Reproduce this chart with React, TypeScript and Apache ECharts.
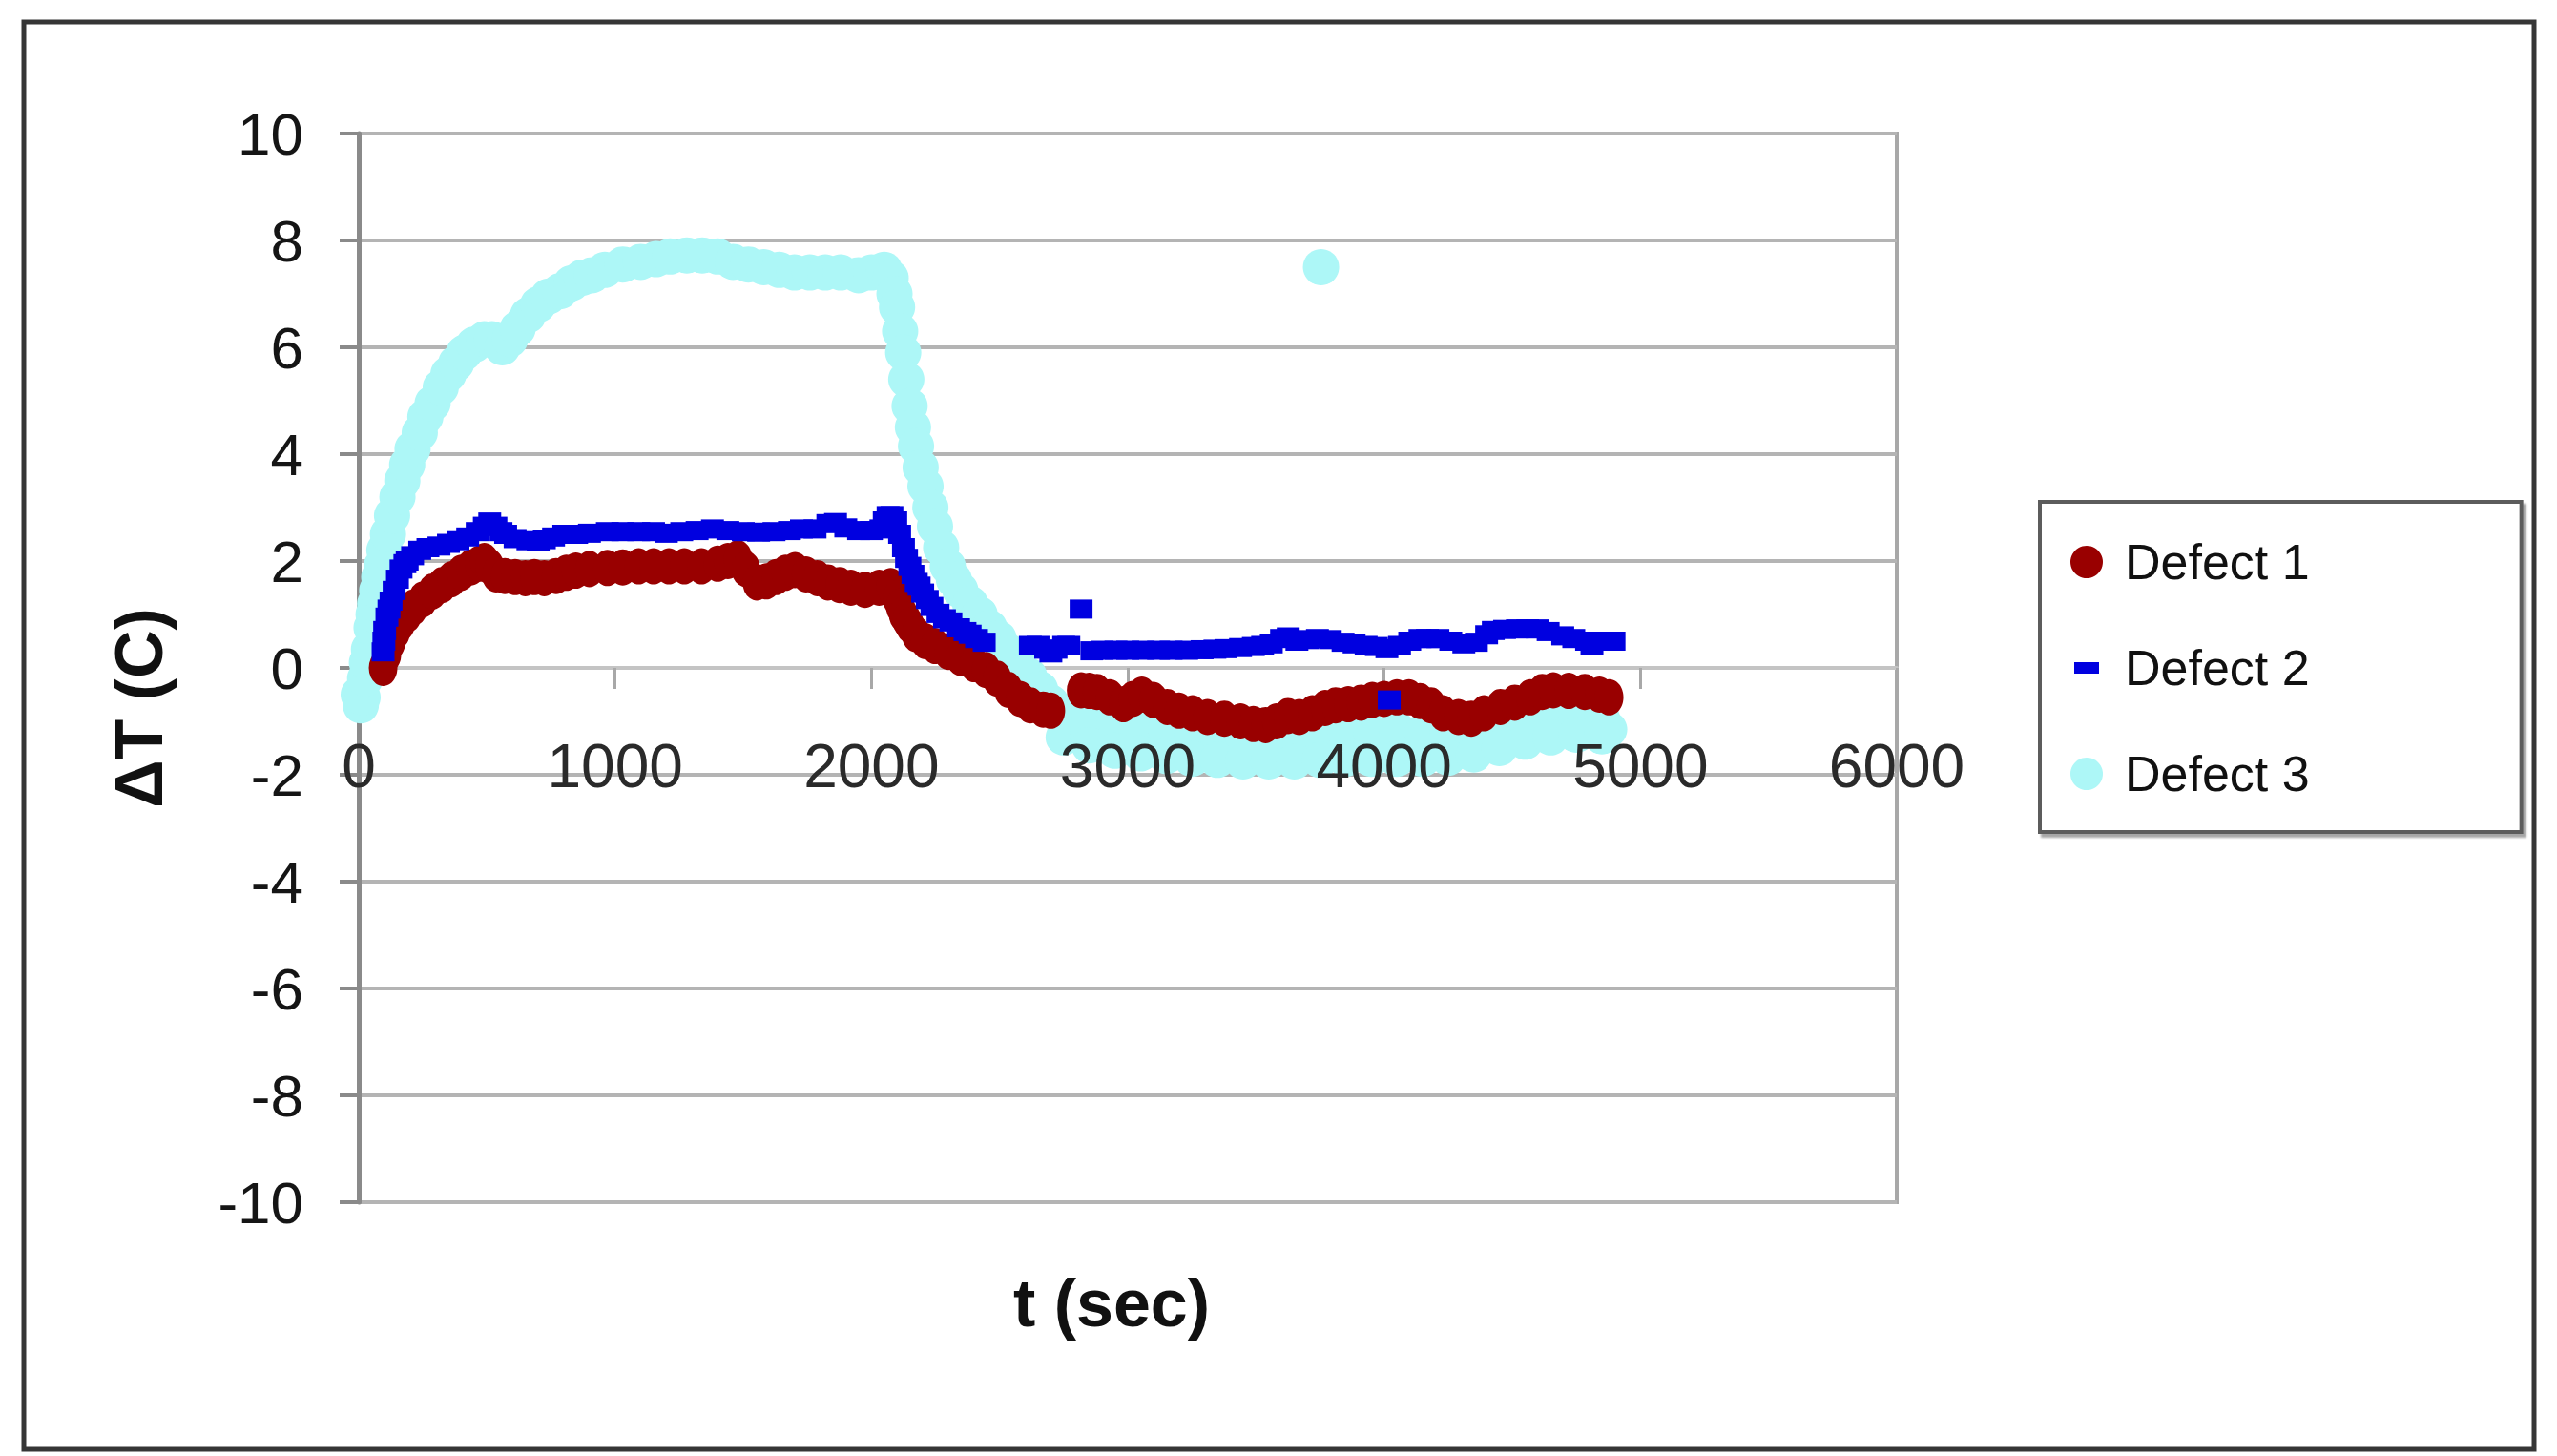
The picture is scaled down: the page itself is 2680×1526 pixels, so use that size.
import React, { useEffect, useRef } from "react";
import * as echarts from "echarts";

// ---- axis settings ----
const xTicks = [0, 1000, 2000, 3000, 4000, 5000, 6000];
const yTicks = [-10, -8, -6, -4, -2, 0, 2, 4, 6, 8, 10];
const seriesNames = ["Defect 1", "Defect 2", "Defect 3"];

// ---- Defect 1 (dark red) [t (sec), dT (C)] ----
const defect1Heat: [number, number][] = [
  [95, 0.0], [110, 0.25], [126, 0.48], [145, 0.68], [164, 0.84], [190, 1.0], [213, 1.13],
  [250, 1.28], [288, 1.43], [325, 1.55], [362, 1.66], [400, 1.78], [437, 1.88], [470, 1.95],
  [490, 2.0], [510, 1.9], [536, 1.75], [570, 1.72], [610, 1.7], [650, 1.68], [685, 1.7],
  [724, 1.68], [770, 1.72], [810, 1.78], [847, 1.82], [900, 1.85], [970, 1.87], [1030, 1.88],
  [1092, 1.9], [1150, 1.9], [1210, 1.9], [1270, 1.9], [1337, 1.9], [1400, 1.95], [1440, 2.0],
  [1479, 2.05], [1510, 1.85], [1553, 1.6], [1590, 1.62], [1628, 1.7], [1665, 1.78], [1702, 1.83],
  [1745, 1.75], [1789, 1.68], [1830, 1.6], [1876, 1.55], [1920, 1.5], [1975, 1.46], [2030, 1.5],
  [2075, 1.53],
];
const defect1Cool: [number, number][] = [
  [2100, 1.3], [2112, 1.15], [2124, 1.0], [2137, 0.9], [2150, 0.8], [2174, 0.63], [2210, 0.5],
  [2248, 0.41], [2300, 0.3], [2347, 0.19], [2400, 0.07], [2447, -0.04], [2490, -0.2],
  [2534, -0.41], [2580, -0.58], [2620, -0.7], [2670, -0.78], [2700, -0.8],
  [2818, -0.42], [2850, -0.43], [2880, -0.45], [2930, -0.55], [2983, -0.68], [3020, -0.58],
  [3055, -0.5], [3100, -0.6], [3154, -0.73], [3200, -0.8], [3253, -0.85], [3311, -0.92],
  [3377, -0.95], [3440, -1.0], [3490, -1.05], [3538, -1.07], [3580, -1.0], [3625, -0.9],
  [3669, -0.92], [3720, -0.85], [3770, -0.75], [3811, -0.7], [3860, -0.68], [3910, -0.65],
  [3954, -0.6], [4000, -0.58], [4050, -0.55], [4097, -0.55], [4140, -0.62], [4183, -0.7],
  [4230, -0.85], [4290, -0.92], [4340, -0.95], [4390, -0.85], [4454, -0.73], [4510, -0.65],
  [4570, -0.55], [4617, -0.45], [4660, -0.42], [4720, -0.43], [4783, -0.45], [4840, -0.5],
  [4878, -0.55],
];

// ---- Defect 2 (blue) ----
const defect2Heat: [number, number][] = [
  [95, 0.3], [98, 0.5], [101, 0.7], [110, 0.95], [118, 1.1], [126, 1.25], [138, 1.45],
  [151, 1.66], [165, 1.85], [180, 1.95], [189, 2.0], [210, 2.1], [238, 2.2], [270, 2.25],
  [313, 2.28], [350, 2.33], [387, 2.38], [425, 2.45], [462, 2.55], [490, 2.65], [511, 2.73],
  [535, 2.65], [555, 2.55], [573, 2.5], [610, 2.42], [660, 2.38], [700, 2.36], [724, 2.4],
  [760, 2.45], [800, 2.5], [850, 2.5], [900, 2.52], [970, 2.55], [1030, 2.55], [1092, 2.55],
  [1150, 2.55], [1200, 2.52], [1260, 2.55], [1320, 2.57], [1380, 2.6], [1440, 2.57],
  [1500, 2.55], [1560, 2.54], [1620, 2.55], [1680, 2.57], [1727, 2.6], [1780, 2.6],
  [1830, 2.7], [1860, 2.72], [1900, 2.62], [1950, 2.57], [2000, 2.57], [2037, 2.6],
  [2050, 2.75], [2065, 2.85], [2080, 2.85], [2095, 2.75],
];
const defect2Cool: [number, number][] = [
  [2110, 2.5], [2125, 2.25], [2137, 2.05], [2150, 1.9], [2162, 1.75], [2175, 1.6], [2186, 1.53],
  [2200, 1.4], [2218, 1.28], [2236, 1.15], [2260, 1.02], [2285, 0.92], [2310, 0.86],
  [2340, 0.75], [2365, 0.68], [2385, 0.63], [2410, 0.55], [2440, 0.48],
  [2620, 0.42], [2650, 0.42], [2680, 0.35], [2700, 0.28], [2720, 0.35], [2750, 0.42],
  [2770, 0.42], [2818, 1.1],
  [2860, 0.32], [2900, 0.33], [2954, 0.33], [3000, 0.33], [3060, 0.33], [3120, 0.33],
  [3169, 0.33], [3230, 0.33], [3290, 0.34], [3340, 0.35], [3383, 0.36], [3440, 0.38],
  [3490, 0.4], [3526, 0.42], [3560, 0.45], [3600, 0.55], [3626, 0.58], [3660, 0.5],
  [3700, 0.53], [3740, 0.55], [3790, 0.53], [3840, 0.48], [3883, 0.45], [3930, 0.42],
  [3970, 0.4], [4011, 0.36], [4020, -0.6], [4060, 0.42], [4100, 0.5], [4140, 0.55], [4169, 0.55],
  [4210, 0.55], [4260, 0.5], [4311, 0.45], [4360, 0.48], [4400, 0.62], [4426, 0.7],
  [4470, 0.72], [4520, 0.73], [4560, 0.73], [4597, 0.73], [4640, 0.68], [4697, 0.6],
  [4740, 0.55], [4790, 0.5], [4811, 0.42], [4850, 0.5], [4897, 0.5],
];

// ---- Defect 3 (light cyan) ----
const defect3Heat: [number, number][] = [
  [0, -0.5], [8, -0.7], [15, -0.55], [25, -0.2], [32, 0.1], [40, 0.35], [50, 0.75], [58, 1.0],
  [64, 1.2], [72, 1.45], [80, 1.7], [89, 1.9], [100, 2.2], [114, 2.5], [130, 2.85], [151, 3.2],
  [170, 3.5], [189, 3.8], [210, 4.1], [238, 4.4], [260, 4.7], [288, 4.95], [320, 5.25],
  [350, 5.5], [380, 5.7], [412, 5.9], [450, 6.05], [490, 6.15], [520, 6.15], [560, 6.0],
  [590, 6.15], [620, 6.35], [660, 6.6], [700, 6.8], [740, 6.95], [785, 7.05], [830, 7.2],
  [870, 7.3], [910, 7.35], [960, 7.45], [1030, 7.55], [1100, 7.6], [1160, 7.65], [1215, 7.7],
  [1280, 7.72], [1340, 7.72], [1400, 7.7], [1460, 7.6], [1520, 7.55], [1580, 7.5],
  [1640, 7.45], [1700, 7.4], [1760, 7.4], [1820, 7.4], [1880, 7.4], [1950, 7.35], [2000, 7.4],
  [2050, 7.45],
];
const defect3Cool: [number, number][] = [
  [2075, 7.3], [2090, 7.0], [2100, 6.75], [2112, 6.3], [2124, 5.9], [2136, 5.4], [2149, 4.9],
  [2162, 4.5], [2174, 4.15], [2192, 3.75], [2211, 3.4], [2230, 3.0], [2248, 2.65], [2272, 2.25],
  [2298, 1.9], [2322, 1.65], [2347, 1.45], [2385, 1.2], [2422, 1.0], [2460, 0.75], [2496, 0.55],
  [2535, 0.3], [2571, 0.1], [2615, -0.15], [2658, -0.4], [2700, -0.65], [2744, -0.86],
  [2750, -1.3], [2790, -1.0], [2844, -1.15], [2900, -1.25], [2950, -1.3], [3000, -1.35],
  [3060, -1.4], [3120, -1.45], [3200, -1.5], [3280, -1.55], [3360, -1.6], [3440, -1.6],
  [3520, -1.6], [3600, -1.6], [3680, -1.58], [3760, -1.55], [3840, -1.55], [3920, -1.55],
  [4000, -1.55], [4080, -1.55], [4160, -1.55], [4240, -1.5], [4310, -1.45], [4380, -1.45],
  [4440, -1.35], [4500, -1.25], [4560, -1.2], [4620, -1.15], [4680, -1.1], [4740, -1.05],
  [4800, -1.05], [4850, -1.1], [4878, -1.15],
];
const defect3TailUpper: [number, number][] = [
  [2850, -0.85], [2950, -0.95], [3050, -1.05], [3150, -1.15], [3250, -1.2], [3350, -1.25],
  [3450, -1.3], [3550, -1.3], [3650, -1.3], [3750, -1.25], [3850, -1.2], [3950, -1.2],
  [4050, -1.15], [4150, -1.2], [4250, -1.2], [4350, -1.2], [4450, -1.1], [4550, -1.0],
  [4650, -0.95], [4750, -0.9], [4850, -0.95],
];
const defect3TailLower: [number, number][] = [
  [2850, -1.45], [2950, -1.55], [3050, -1.6], [3150, -1.65], [3250, -1.7], [3350, -1.72],
  [3450, -1.75], [3550, -1.75], [3650, -1.75], [3750, -1.72], [3850, -1.7], [3950, -1.7],
  [4050, -1.7], [4150, -1.7], [4250, -1.68], [4350, -1.62], [4450, -1.5], [4550, -1.38],
  [4650, -1.3], [4750, -1.25], [4850, -1.28],
];
const defect3Outlier: [number, number][] = [[3754, 7.5]];

const FONT = "'Liberation Sans', Arial, Helvetica, sans-serif";
const RED = "#990000";
const BLUE = "#0000e0";
const CYAN = "#adf7f7";

const GRID_TOP = 140;
const GRID_H = 1120;

export default function App() {
  const ref = useRef<HTMLDivElement>(null);

  useEffect(() => {
    if (!ref.current) return;
    const chart = echarts.init(ref.current, null, { renderer: "svg" });

    // the x axis (line, ticks, labels) sits on the y = 0 level of the grid
    const yMin = yTicks[0];
    const yMax = yTicks[yTicks.length - 1];
    const zeroOffset = -GRID_H * (0 - yMin) / (yMax - yMin);

    const xScale = {
      type: "value",
      position: "bottom",
      offset: zeroOffset,
      min: xTicks[0],
      max: xTicks[xTicks.length - 1],
      interval: xTicks[1] - xTicks[0],
      splitLine: { show: false },
    };

    const option = {
      animation: false,
      backgroundColor: "#ffffff",
      grid: {
        left: 376,
        top: GRID_TOP,
        width: 1612,
        height: GRID_H,
        show: true,
        borderColor: "#a8a8a8",
        borderWidth: 4,
        containLabel: false,
      },
      xAxis: [
        {
          ...xScale,
          z: 0,
          axisLine: { show: true, onZero: false, lineStyle: { color: "#c4c4c4", width: 4 } },
          axisTick: { show: true, inside: false, length: 22, lineStyle: { color: "#a8a8a8", width: 3 } },
          axisLabel: { show: false },
        },
        {
          ...xScale,
          z: 10,
          axisLine: { show: false, onZero: false },
          axisTick: { show: false },
          axisLabel: {
            show: true,
            margin: 71,
            fontSize: 64,
            fontFamily: FONT,
            color: "#2a2a2a",
            formatter: (v: number) => String(v),
          },
        },
      ],
      yAxis: {
        type: "value",
        min: yMin,
        max: yMax,
        interval: yTicks[1] - yTicks[0],
        axisLine: { show: true, onZero: false, lineStyle: { color: "#8a8a8a", width: 5 } },
        axisTick: { show: true, inside: false, length: 20, lineStyle: { color: "#8a8a8a", width: 4 } },
        axisLabel: {
          margin: 58,
          fontSize: 62,
          fontFamily: FONT,
          color: "#151515",
          formatter: (v: number) => String(v),
        },
        splitLine: { show: true, lineStyle: { color: "#b4b4b4", width: 4 } },
      },
      legend: {
        orient: "vertical",
        left: 2138,
        top: 526,
        padding: [37, 222, 35, 32],
        itemWidth: 34,
        itemHeight: 34,
        itemGap: 59,
        borderColor: "#5c5c5c",
        borderWidth: 4,
        backgroundColor: "#ffffff",
        shadowColor: "rgba(0,0,0,0.35)",
        shadowBlur: 2,
        shadowOffsetX: 3,
        shadowOffsetY: 4,
        textStyle: {
          fontSize: 52,
          fontFamily: FONT,
          color: "#111111",
          lineHeight: 52,
          padding: [0, 0, 0, 18],
        },
        data: [
          { name: seriesNames[0], icon: "circle" },
          { name: seriesNames[1], icon: "path://M0,0M34,34M4,11H30V23H4Z" },
          { name: seriesNames[2], icon: "circle" },
        ],
      },
      graphic: [
        {
          type: "rect",
          z: 100,
          silent: true,
          shape: { x: 25, y: 23, width: 2631, height: 1496 },
          style: { fill: "none", stroke: "#363636", lineWidth: 5 },
        },
        {
          type: "text",
          x: 146,
          y: 742,
          rotation: Math.PI / 2,
          style: {
            text: "ΔT (C)",
            fontSize: 70,
            fontWeight: "bold",
            fontFamily: FONT,
            fill: "#111111",
            align: "center",
            verticalAlign: "middle",
            textAlign: "center",
            textVerticalAlign: "middle",
          },
        },
        {
          type: "text",
          x: 1165,
          y: 1366,
          style: {
            text: "t (sec)",
            fontSize: 70,
            fontWeight: "bold",
            fontFamily: FONT,
            fill: "#111111",
            align: "center",
            verticalAlign: "middle",
            textAlign: "center",
            textVerticalAlign: "middle",
          },
        },
      ],
      series: [
        {
          name: seriesNames[2],
          type: "scatter",
          xAxisIndex: 0,
          symbol: "circle",
          symbolSize: 38,
          itemStyle: { color: CYAN, opacity: 1 },
          data: [...defect3Heat, ...defect3Cool, ...defect3TailUpper, ...defect3TailLower, ...defect3Outlier],
          z: 2,
        },
        {
          name: seriesNames[0],
          type: "scatter",
          xAxisIndex: 0,
          symbol: "circle",
          symbolSize: [30, 38],
          itemStyle: { color: RED, opacity: 1 },
          data: [...defect1Heat, ...defect1Cool],
          z: 3,
        },
        {
          name: seriesNames[1],
          type: "scatter",
          xAxisIndex: 0,
          symbol: "rect",
          symbolSize: [24, 20],
          itemStyle: { color: BLUE, opacity: 1 },
          data: [...defect2Heat, ...defect2Cool],
          z: 4,
        },
      ],
    };

    chart.setOption(option as any);
    return () => chart.dispose();
  }, []);

  return (
    <div
      ref={ref}
      style={{ position: "fixed", left: 0, top: 0, width: 2680, height: 1526, background: "#fff" }}
    />
  );
}
